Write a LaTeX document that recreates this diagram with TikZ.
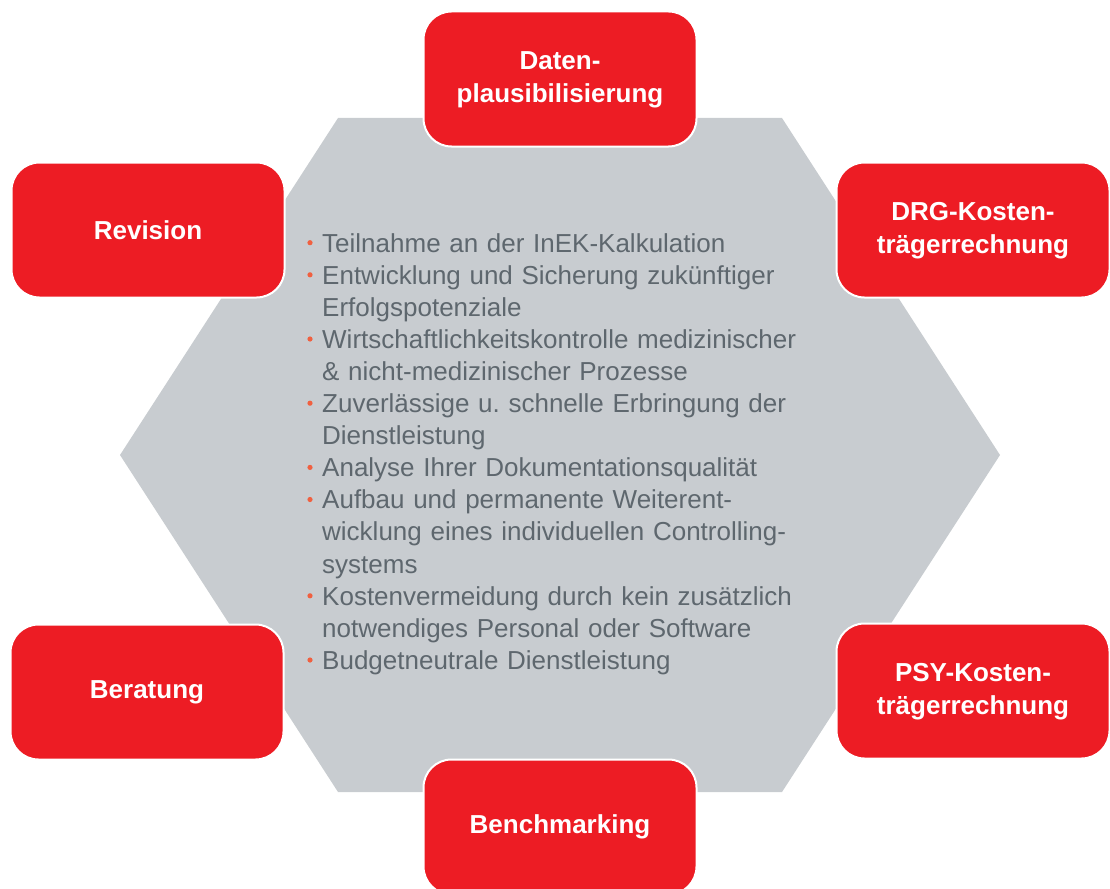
\documentclass[tikz,border=0pt]{standalone}
\usepackage{fontspec}
\setmainfont{Liberation Sans}
\frenchspacing
\definecolor{boxred}{RGB}{237,28,36}
\definecolor{hexgray}{RGB}{200,204,208}
\definecolor{txtgray}{RGB}{94,103,110}
\definecolor{bulred}{RGB}{240,96,64}
\newcommand\twolines[2]{\raisebox{-3pt}{\begin{tabular}{@{}c@{}}#1\\#2\end{tabular}}}
\begin{document}
\begin{tikzpicture}[x=1pt,y=-1pt,
  box/.style={draw=white, line width=2pt, fill=boxred, rounded corners=28pt,
    minimum width=273pt, minimum height=135pt, align=center, text=white,
    font=\fontsize{26}{33}\selectfont\bfseries, inner sep=0pt},
  listtext/.style={anchor=base west, text width=540pt, align=left, inner sep=0pt,
    text=txtgray, font=\fontsize{26}{32.1}\selectfont}]
\useasboundingbox (0,0) rectangle (1110,888);
\clip (0,0) rectangle (1110,888);
\fill[hexgray] (120,455) -- (338,118) -- (782,118) -- (1000,455) -- (782,792) -- (338,792) -- cycle;
\node[box] (daten) at (560,79) {\twolines{Daten-}{plausibilisierung}};
\node[box] (revision) at (148,230) {Revision};
\node[box] (drg) at (973,230) {\twolines{DRG-Kosten-}{trägerrechnung}};
\node[box] (beratung) at (147,692) {Beratung};
\node[box] (psy) at (973,691) {\twolines{PSY-Kosten-}{trägerrechnung}};
\node[box] (bench) at (560,827) {Benchmarking};
\node[listtext] (list) at (322,252) {Teilnahme an der InEK-Kalkulation\\
Entwicklung und Sicherung zukünftiger\\
Erfolgspotenziale\\
Wirtschaftlichkeitskontrolle medizinischer\\
\& nicht-medizinischer Prozesse\\
Zuverlässige u. schnelle Erbringung der\\
Dienstleistung\\
Analyse Ihrer Dokumentationsqualität\\
Aufbau und permanente Weiterent-\\
wicklung eines individuellen Controlling-\\
systems\\
Kostenvermeidung durch kein zusätzlich\\
notwendiges Personal oder Software\\
Budgetneutrale Dienstleistung};
\foreach \i in {0,1,3,5,7,8,11,13}
  \fill[bulred] (310,{252-9.3+32.1*\i}) circle (2.6pt);
\end{tikzpicture}
\end{document}
